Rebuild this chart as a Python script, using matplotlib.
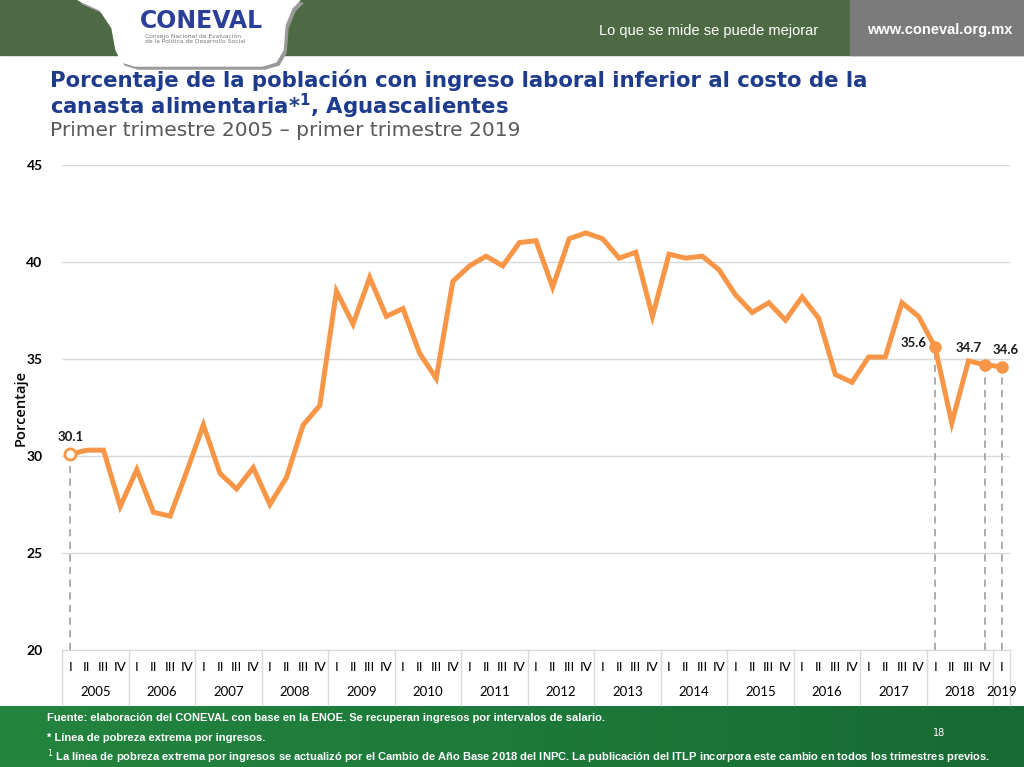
import numpy as np
import matplotlib
matplotlib.use("Agg")
import matplotlib.pyplot as plt
from matplotlib.patches import Rectangle, Polygon

# Data: 2005 Q1 - 2019 Q1
years = ["2005", "2006", "2007", "2008", "2009", "2010", "2011", "2012",
         "2013", "2014", "2015", "2016", "2017", "2018", "2019"]
quarters = ["I", "II", "III", "IV"]
values = [30.1, 30.3, 30.3, 27.4, 29.3, 27.1, 26.9, 29.2, 31.6, 29.1,
          28.3, 29.4, 27.5, 28.9, 31.6, 32.6, 38.5, 36.8, 39.2, 37.2,
          37.6, 35.3, 34.0, 39.0, 39.8, 40.3, 39.8, 41.0, 41.1, 38.7,
          41.2, 41.5, 41.2, 40.2, 40.5, 37.2, 40.4, 40.2, 40.3, 39.6,
          38.3, 37.4, 37.9, 37.0, 38.2, 37.1, 34.2, 33.8, 35.1, 35.1,
          37.9, 37.2, 35.6, 31.7, 34.9, 34.7, 34.6]
highlight = [0, 52, 55, 56]

n = len(values)
x = np.arange(n)
q_labels = [quarters[i % 4] for i in range(n)]

orange = "#F79646"
fig = plt.figure(figsize=(10.24, 7.67), dpi=100)

# background / decoration layer in pixel coords
bg = fig.add_axes([0, 0, 1, 1])
bg.axis("off")
bg.add_patch(Rectangle((0, 0), 1024, 55, color="#4d6a44", zorder=1))
bg.add_patch(Rectangle((850, 0), 174, 55, color="#7b7b7b", zorder=2))
logo = [(78, 0), (300, 0), (292, 8), (285, 25), (283, 50), (276, 62), (262, 66),
        (135, 66), (122, 62), (116, 50), (112, 28), (100, 10)]
bg.add_patch(Polygon([(px + 3, py + 3) for px, py in logo], color="#9a9a9a", zorder=2))
bg.add_patch(Polygon(logo, color="white", zorder=3))
bg.text(201, 21, "CONEVAL", ha="center", va="center", fontsize=17, fontweight="bold",
        color="#2b3f99", family="DejaVu Sans", zorder=4)
bg.text(145, 39, "Consejo Nacional de Evaluación\nde la Política de Desarrollo Social",
        ha="left", va="center", fontsize=4.3, color="#777777", linespacing=1.1, zorder=4)
bg.text(818, 31, "Lo que se mide se puede mejorar", ha="right", va="center",
        fontsize=10.5, color="white", family="Liberation Sans", zorder=4)
bg.text(1012, 30, "www.coneval.org.mx", ha="right", va="center", fontsize=10.5,
        fontweight="bold", color="white", family="Liberation Sans", zorder=4)

title = dict(ha="left", va="center", fontsize=15.3, fontweight="bold", color="#1f3b8c",
             family="DejaVu Sans")
bg.text(50, 80, "Porcentaje de la población con ingreso laboral inferior al costo de la", **title)
bg.text(50, 106, r"canasta alimentaria*$^{\mathregular{1}}$, Aguascalientes", **title)
bg.text(50, 131, "Primer trimestre 2005 – primer trimestre 2019", ha="left", va="center",
        fontsize=14.5, color="#595959", family="DejaVu Sans")

# footer gradient
grad = np.linspace(0, 1, 256).reshape(1, -1)
cmap = matplotlib.colors.LinearSegmentedColormap.from_list("g", ["#23843f", "#1d7a3a", "#176a33"])
bg.imshow(grad, extent=(0, 1024, 767, 706), aspect="auto", cmap=cmap, zorder=1)
bg.set_xlim(0, 1024)
bg.set_ylim(767, 0)
foot = dict(ha="left", va="center", fontsize=8, color="white", fontweight="bold",
            family="Liberation Sans", zorder=4)
bg.text(47, 718, "Fuente: elaboración del CONEVAL con base en la ENOE. Se recuperan ingresos por intervalos de salario.", **foot)
bg.text(47, 738, "* Línea de pobreza extrema por ingresos.", **foot)
bg.text(47, 757, r"$^{1}$ La línea de pobreza extrema por ingresos se actualizó por el Cambio de Año Base 2018 del INPC. "
        "La publicación del ITLP incorpora este cambio en todos los trimestres previos.", **foot)
bg.text(939, 733, "18", ha="center", va="center", fontsize=7, color="white", zorder=4)

# chart
ax = fig.add_axes([62 / 1024, 1 - 650 / 767, 948 / 1024, 485 / 767])
ax.set_xlim(-0.5, n - 0.5)
ax.set_ylim(20, 45)
ax.set_yticks([20, 25, 30, 35, 40, 45])
ax.grid(axis="y", color="#d9d9d9", linewidth=1)
ax.set_axisbelow(True)
for s in ["top", "right", "left"]:
    ax.spines[s].set_visible(False)
ax.spines["bottom"].set_color("#d9d9d9")
ax.tick_params(axis="y", length=0, labelsize=10, pad=14)
for lab in ax.get_yticklabels():
    lab.set_fontfamily("Lato")
    lab.set_fontweight("bold")
ax.set_ylabel("Porcentaje", fontsize=10.5, fontfamily="Open Sans", fontweight="semibold")
ax.yaxis.set_label_coords(-0.036, 0.5)
ax.set_xticks([])

ax.plot(x, values, color=orange, linewidth=3.6, solid_joinstyle="miter", zorder=3)

for i in highlight:
    ax.vlines(x[i], 20, values[i], colors="#a6a6a6", linestyles=(0, (4, 3)),
              linewidth=1.3, zorder=2)
ax.plot(x[0], values[0], "o", ms=8, mfc="white", mec=orange, mew=2, zorder=4)
ax.plot(x[highlight[1:]], [values[i] for i in highlight[1:]], "o", ms=8,
        color=orange, zorder=4)
lbl = dict(fontsize=9.5, fontweight="bold", fontfamily="Lato", color="#1a1a1a")
ax.annotate(f"{values[0]:.1f}", (x[0], values[0]), xytext=(0, 8),
            textcoords="offset points", ha="center", va="bottom", **lbl)
ax.annotate(f"{values[52]:.1f}", (x[52], values[52]), xytext=(-6, 3),
            textcoords="offset points", ha="right", va="center", **lbl)
ax.annotate(f"{values[55]:.1f}", (x[55], values[55]), xytext=(-12, 8),
            textcoords="offset points", ha="center", va="bottom", **lbl)
ax.annotate(f"{values[56]:.1f}", (x[56], values[56]), xytext=(3, 8),
            textcoords="offset points", ha="center", va="bottom", **lbl)

# category axis: quarters and years
xt = ax.get_xaxis_transform()
for i, q in enumerate(q_labels):
    ax.text(x[i], -0.036, q, transform=xt, ha="center", va="center", fontsize=9.5,
            fontfamily="Liberation Sans Narrow", clip_on=False)
bounds = list(range(0, n, 4)) + [n]
for k, yr in enumerate(years):
    left = bounds[k] - 0.5
    right = bounds[k + 1] - 0.5
    ax.text((left + right) / 2, -0.087, yr, transform=xt, ha="center", va="center",
            fontsize=9.5, fontfamily="Lato", clip_on=False)
for b in bounds:
    ax.plot([b - 0.5, b - 0.5], [0, -0.113], transform=xt, color="#d9d9d9",
            linewidth=1, clip_on=False)

fig.savefig("out.png", dpi=100)
